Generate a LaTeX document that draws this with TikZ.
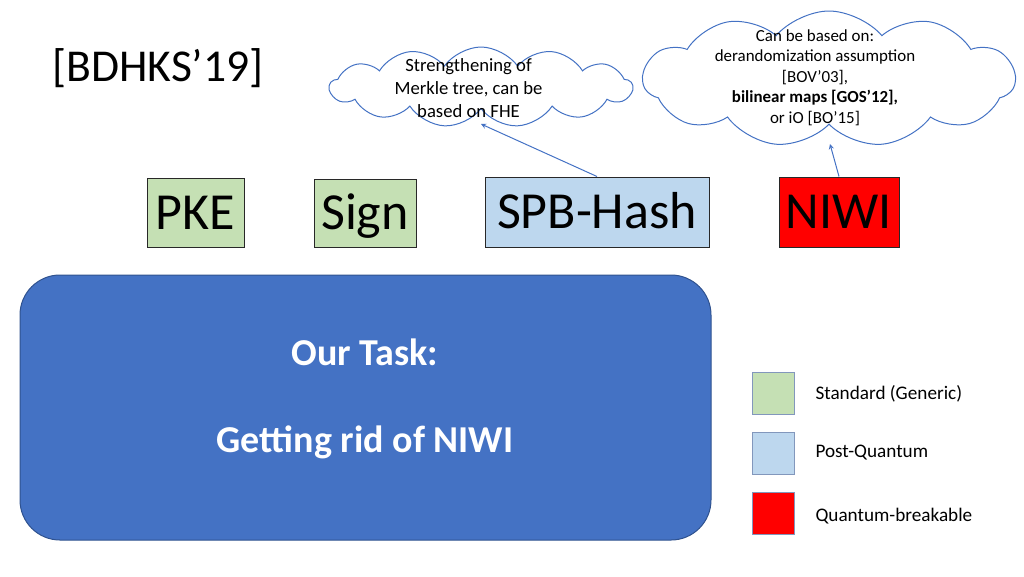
\documentclass[tikz,border=0pt]{standalone}
\usepackage{fontspec}
\setmainfont{Carlito}
\usetikzlibrary{shapes.symbols}
\definecolor{boxgreen}{RGB}{197,224,180}
\definecolor{boxblue}{RGB}{189,215,238}
\definecolor{taskblue}{RGB}{68,114,196}
\definecolor{taskedge}{RGB}{47,82,143}
\definecolor{boxedge}{RGB}{40,40,40}
\tikzset{every picture/.style={line width=0.75pt}}
\tikzset{
  primbox/.style={draw=boxedge, inner sep=0pt, text height=25pt, text depth=0pt, font=\fontsize{39}{40}\selectfont},
  legbox/.style={draw=taskedge!60, minimum width=31.5pt, minimum height=31.5pt, inner sep=0pt},
  legtext/.style={anchor=west, inner sep=0pt, font=\fontsize{14.4}{16}\selectfont},
  thought/.style={cloud, cloud puffs=13, cloud puff arc=110, draw=taskblue, fill=white, inner sep=0pt},
  pointer/.style={draw=taskblue, -stealth}
}
\begin{document}
\begin{tikzpicture}[x=0.75pt,y=0.75pt,yscale=-1,xscale=1]
\useasboundingbox (0,0) rectangle (1024,576);

% citation
\node (cite) at (158,68) [inner sep=0pt, font=\fontsize{34.2}{40}\selectfont] {[BDHKS’19]};

% thought clouds
\node (merkle) at (481,87) [thought, minimum width=227pt, minimum height=60pt] {};
\node (merkletext) at (468.5,88) [align=center, inner sep=0pt, font=\fontsize{14}{17}\selectfont] {Strengthening of\\Merkle tree, can be\\based on FHE};
\node (niwicloud) at (829,79) [thought, cloud puffs=11, cloud puff arc=100, minimum width=279pt, minimum height=102pt] {};
\node (niwitext) at (815,77.5) [align=center, inner sep=0pt, font=\fontsize{12.7}{15.4}\selectfont] {Can be based on:\\derandomization assumption\\{[BOV’03],}\\\textbf{bilinear maps [GOS’12],}\\or iO [BO’15]};
% where the pointers touch the clouds
\coordinate (merkletip) at (481,124);
\coordinate (niwitip) at (830,144);

% primitives
\node (pke) at (195.5,212.5) [primbox, fill=boxgreen, minimum width=72.75pt, minimum height=51.75pt] {PKE};
\node (sign) at (365,213) [primbox, fill=boxgreen, minimum width=76.5pt, minimum height=51pt] {Sign};
\node (spb) at (597,212) [primbox, fill=boxblue, minimum width=168pt, minimum height=52.5pt] {SPB-Hash};
\node (niwi) at (839,212) [primbox, fill=red, minimum width=90pt, minimum height=52.5pt] {NIWI};

% pointers to clouds
\draw [pointer] (spb.north) -- (merkletip);
\draw [pointer] (niwi.north) -- (niwitip);

% task
\node (task) at (365.5,407.5) [draw=taskedge, fill=taskblue, rounded corners=30pt, minimum width=518.25pt, minimum height=198.75pt] {};
\node (tasktitle) at (365,352) [text=white, font=\bfseries\fontsize{28.5}{30}\selectfont] {Our Task:};
\node (taskgoal) at (365,442) [text=white, font=\bfseries\fontsize{28.5}{30}\selectfont] {Getting rid of NIWI};

% legend
\node (legstd) at (773,393) [legbox, fill=boxgreen] {};
\node (legpq) at (773,453) [legbox, fill=boxblue] {};
\node (legqb) at (773,513) [legbox, fill=red] {};
\node (legstdtext) at (815,394) [legtext] {Standard (Generic)};
\node (legpqtext) at (815,453) [legtext] {Post-Quantum};
\node (legqbtext) at (815,516) [legtext] {Quantum-breakable};

\end{tikzpicture}
\end{document}
